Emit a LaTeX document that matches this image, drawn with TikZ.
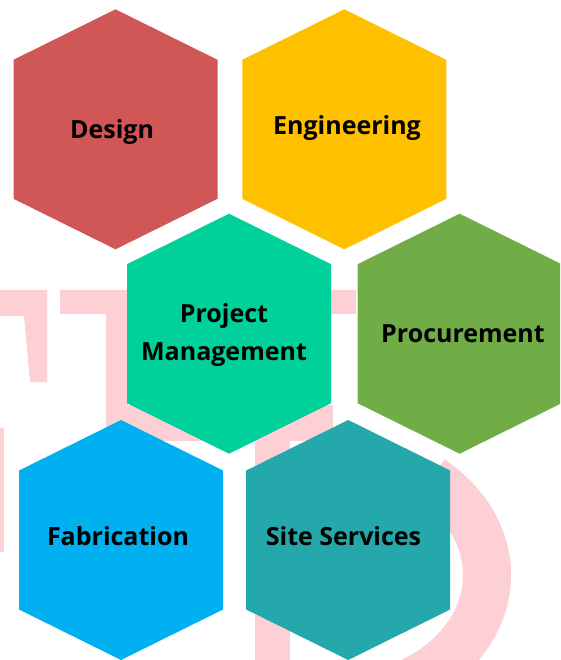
\documentclass[tikz,border=0pt]{standalone}
\usepackage{fontspec}
\setmainfont{Open Sans}
\definecolor{designred}{HTML}{D15757}
\definecolor{enggold}{HTML}{FFC000}
\definecolor{pmgreen}{HTML}{00D09A}
\definecolor{procgreen}{HTML}{70AD47}
\definecolor{fabblue}{HTML}{00B0F0}
\definecolor{siteteal}{HTML}{24A8AC}
\definecolor{logopink}{RGB}{252,208,213}
\tikzset{
	celltext/.style={font=\bfseries\fontsize{25}{38}\selectfont, align=center, text=black, inner sep=0pt},
	logo/.style={logopink}
}

\begin{document}
\begin{tikzpicture}[x=1pt, y=-1pt]
	\useasboundingbox (0,0) rectangle (560,660);
	\clip (0,0) rectangle (560,660);
	% faint logo behind the cells
	\fill[logo] (0,290) -- (47,290) -- (47,382) -- (30,382) -- (24,316) -- (0,316) -- cycle;
	\fill[logo] (60,290) rectangle (356,314);
	\fill[logo] (106,290) rectangle (128,436);
	\fill[logo] (0,428) rectangle (4,552);
	\draw[logo, line width=36] (120,423) -- (333,423);
	\draw[logo, line width=48] (330,575) ++(-50:157 and 125) arc[start angle=-50, end angle=90, x radius=157, y radius=125];
	\fill[logo] (255,430) rectangle (290,660);
	% hexagon cells
	\foreach \cx/\cy/\shade in {115.5/129.3/designred, 344.3/129.3/enggold, 229/333.7/pmgreen,
		459.6/333.7/procgreen, 121/540/fabblue, 348.2/540/siteteal}
		\fill[\shade] (\cx,\cy) ++(0,-120) -- ++(102,50.5) -- ++(0,139) -- ++(-102,50.5)
			-- ++(-102,-50.5) -- ++(0,-139) -- cycle;
	\node[celltext, anchor=base] (design) at (112,138.3) {Design};
	\node[celltext, anchor=base] (engineering) at (347,135) {Engineering};
	\node[celltext] (projmgmt) at (224,335.5) {Project\\Management};
	\node[celltext, anchor=base] (procurement) at (463,342.7) {Procurement};
	\node[celltext, anchor=base] (fabrication) at (118,545.7) {Fabrication};
	\node[celltext, anchor=base] (siteserv) at (343.5,545.7) {Site Services};
\end{tikzpicture}
\end{document}
